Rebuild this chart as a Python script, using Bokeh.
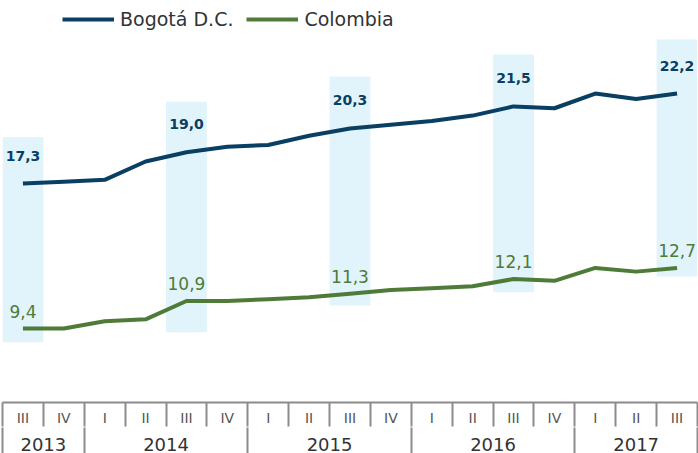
from bokeh.plotting import figure
from bokeh.models import (LinearAxis, FixedTicker, Range1d, Legend, LegendItem,
                          ColumnDataSource)
from bokeh.core.properties import value
from bokeh.embed import file_html
from bokeh.resources import INLINE

# ---- data ----
quarters = ["III", "IV", "I", "II", "III", "IV", "I", "II", "III", "IV",
            "I", "II", "III", "IV", "I", "II", "III"]
years = ["2013", "2013", "2014", "2014", "2014", "2014", "2015", "2015", "2015",
         "2015", "2016", "2016", "2016", "2016", "2017", "2017", "2017"]
bogota = [17.3, 17.4, 17.5, 18.5, 19.0, 19.3, 19.4, 19.9, 20.3, 20.5,
          20.7, 21.0, 21.5, 21.4, 22.2, 21.9, 22.2]
colombia = [9.4, 9.4, 9.8, 9.9, 10.9, 10.9, 11.0, 11.1, 11.3, 11.5,
            11.6, 11.7, 12.1, 12.0, 12.7, 12.5, 12.7]
highlight_idx = [0, 4, 8, 12, 16]
band_top = [19.82, 21.76, 23.13, 24.33, 25.14]
band_bottom = [8.65, 9.20, 10.65, 11.38, 12.23]

BOG = "#083f63"
COL = "#4f7b38"
BAND = "#e1f3fb"
AXIS = "#8c8c8c"
FONT = "DejaVu Sans"

n = len(quarters)
xs = list(range(n))

def fmt(v):
    return ("%.1f" % v).replace(".", ",")

p = figure(width=698, height=453, output_backend="svg", toolbar_location=None,
           x_axis_type=None, y_axis_type=None,
           x_range=Range1d(-0.5, n - 0.5), y_range=Range1d(5.37, 27.27),
           min_border_left=2, min_border_right=1, min_border_top=0,
           min_border_bottom=0)
p.outline_line_color = None
p.background_fill_color = "white"

# highlight bands
band_src = ColumnDataSource(dict(x=highlight_idx, top=band_top, bottom=band_bottom))
p.vbar(x="x", top="top", bottom="bottom", width=1.0, source=band_src,
       fill_color=BAND, line_color=None)

r_bog = p.line(xs, bogota, line_color=BOG, line_width=4)
r_col = p.line(xs, colombia, line_color=COL, line_width=4)

lab_src = ColumnDataSource(dict(
    x=highlight_idx,
    yb=[bogota[i] for i in highlight_idx],
    yc=[colombia[i] for i in highlight_idx],
    tb=[fmt(bogota[i]) for i in highlight_idx],
    tc=[fmt(colombia[i]) for i in highlight_idx],
))
p.text(x="x", y="yb", text="tb", source=lab_src, text_align="center",
       text_baseline="bottom", y_offset=-23, text_font=value(FONT),
       text_font_style="bold", text_font_size="14px", text_color=BOG)
p.text(x="x", y="yc", text="tc", source=lab_src, text_align="center",
       text_baseline="bottom", y_offset=-11, text_font=value(FONT),
       text_font_size="17px", text_color=COL)

# legend
legend = Legend(items=[LegendItem(label="Bogotá D.C.", renderers=[r_bog]),
                       LegendItem(label="Colombia", renderers=[r_col])],
                orientation="horizontal", location=(60, 372))
legend.glyph_width = 52
legend.glyph_height = 22
legend.label_height = 22
legend.label_standoff = 6
legend.spacing = 13
legend.padding = 0
legend.margin = 0
legend.border_line_color = None
legend.background_fill_alpha = 0
legend.label_text_font = FONT
legend.label_text_font_size = "19px"
legend.label_text_color = "#333333"
p.add_layout(legend, "center")

# quarter axis
boundaries = [i - 0.5 for i in range(n + 1)]
axA = LinearAxis(ticker=FixedTicker(ticks=xs, minor_ticks=boundaries),
                 major_label_overrides={i: q for i, q in enumerate(quarters)})
axA.axis_line_color = AXIS
axA.axis_line_width = 2
axA.major_tick_line_color = None
axA.major_tick_in = 0
axA.major_tick_out = 0
axA.minor_tick_in = 0
axA.minor_tick_out = 24
axA.minor_tick_line_color = AXIS
axA.minor_tick_line_width = 2
axA.major_label_standoff = -17
axA.major_label_text_font = FONT
axA.major_label_text_font_size = "14px"
axA.major_label_text_color = "#555555"
p.add_layout(axA, "below")

# year axis
year_names = []
year_start = []
year_end = []
for i, y in enumerate(years):
    if not year_names or year_names[-1] != y:
        year_names.append(y)
        year_start.append(i)
        year_end.append(i)
    else:
        year_end[-1] = i
year_centers = [(a + b) / 2 for a, b in zip(year_start, year_end)]
year_bounds = [year_start[0] - 0.5] + [b + 0.5 for b in year_end]
axB = LinearAxis(ticker=FixedTicker(ticks=year_centers, minor_ticks=year_bounds),
                 major_label_overrides={c: y for c, y in zip(year_centers, year_names)})
axB.axis_line_color = None
axB.major_tick_line_color = None
axB.major_tick_in = 0
axB.major_tick_out = 0
axB.minor_tick_in = 1
axB.minor_tick_out = 27
axB.minor_tick_line_color = AXIS
axB.minor_tick_line_width = 2
axB.major_label_standoff = -18
axB.major_label_text_font = FONT
axB.major_label_text_font_size = "18px"
axB.major_label_text_color = "#333333"
p.add_layout(axB, "below")

open("out.html", "w").write(file_html(p, INLINE))
